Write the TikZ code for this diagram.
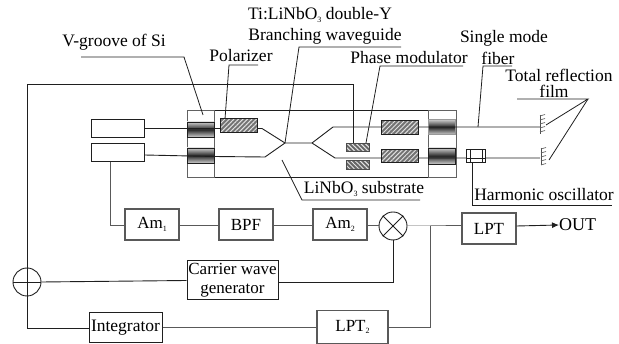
\documentclass[tikz,border=0pt]{standalone}
\usepackage{fontspec}
\setmainfont{Liberation Serif}
\usetikzlibrary{arrows.meta,patterns.meta}
\definecolor{ln}{gray}{0.12}
\definecolor{lb}{gray}{0.35}
\newcommand{\lowidx}[1]{\raisebox{-2.5pt}{\fontsize{8}{8}\selectfont #1}}
\tikzset{
  wire/.style={draw=ln,line width=0.9pt},
  graywire/.style={draw=lb,line width=1pt},
  box/.style={draw=ln,line width=1pt,fill=white,inner sep=0pt,anchor=center},
  gbox/.style={draw=lb,line width=1.2pt,fill=white,inner sep=0pt,anchor=center},
  lab/.style={inner sep=0pt,text=black,font=\fontsize{17.5}{18}\selectfont,anchor=center},
  hatchbox/.style={draw=ln,line width=1pt,preaction={fill=black!55},pattern={Lines[angle=45,distance=3.2pt,line width=1pt]},pattern color=black!12,inner sep=0pt,anchor=center},
  hatchboxb/.style={draw=black!70,line width=1pt,preaction={fill=black!60},pattern={Lines[angle=-45,distance=3.2pt,line width=1pt]},pattern color=black!10,inner sep=0pt,anchor=center},
  band/.style={draw=ln,line width=0.8pt,top color=black!20,bottom color=black!20,middle color=black!85,inner sep=0pt,minimum width=27pt,anchor=center},
  circ/.style={circle,draw=ln,line width=0.9pt,inner sep=0pt,minimum size=28pt,anchor=center},
  leader/.style={draw=ln,line width=0.8pt},
}
\begin{document}
\begin{tikzpicture}[x=1pt,y=-1pt]
\useasboundingbox (0,0) rectangle (619,344);
% substrate and grooves
\node[draw=ln,line width=1pt,minimum width=269pt,minimum height=66.5pt,inner sep=0pt] (chip) at (321.5,143.8) {};
\node[draw=ln!70,line width=1pt,minimum width=27pt,minimum height=66.5pt,inner sep=0pt] (vl) at (200.5,143.8) {};
\node[draw=ln!70,line width=1pt,minimum width=28pt,minimum height=66.5pt,inner sep=0pt] (vr) at (442,143.8) {};
\node[band,minimum height=15pt] (bl1) at (200.5,129.5) {};
\node[band,minimum height=15pt] (bl2) at (200.5,155.5) {};
\node[band,minimum height=15pt,draw=black!40] (br1) at (442,127) {};
\node[band,minimum height=16pt] (br2) at (442,156) {};
% source boxes
\node[box,minimum width=53pt,minimum height=18pt] (s1) at (117.5,129) {};
\node[box,minimum width=53pt,minimum height=18pt] (s2) at (117.5,153) {};
% waveguide coordinates
\coordinate (a1) at (262,128);
\coordinate (a2) at (265,157);
\coordinate (j1) at (285,143);
\coordinate (j2) at (312,143);
\coordinate (b1) at (333,127);
\coordinate (b2) at (335,158);
\coordinate (m1) at (540,127);
\coordinate (m2) at (540,158);
\draw[wire] (s1.east |- 0,128.5) -- (a1 |- 0,128.5) -- (j1) -- (j2) -- (b1) -- (m1);
\draw[wire] (s2.east |- 0,155) -- (214,156.5) -- (a2) -- (j1);
\draw[wire] (j2) -- (b2) -- (m2);
% hatched elements
\node[hatchbox,minimum width=36.5pt,minimum height=14pt] (pol) at (238.8,126) {};
\node[hatchbox,minimum width=36.5pt,minimum height=13.5pt] (r1) at (399.8,127.3) {};
\node[hatchbox,minimum width=36.5pt,minimum height=13pt] (r2) at (399.8,156.5) {};
\node[hatchboxb,minimum width=23pt,minimum height=8.5pt] (pm1) at (357.5,147.5) {};
\node[hatchboxb,minimum width=23pt,minimum height=8.5pt] (pm2) at (357.5,165) {};
% harmonic oscillator
\node[draw=ln,line width=1pt,fill=white,minimum width=19pt,minimum height=13pt,inner sep=0pt] (ho) at (475.5,156.5) {};
\draw[wire] (470,150) -- (470,163) (482.5,150) -- (482.5,163);
\draw[wire] (466,158) -- (485,158);
\coordinate (hoA) at (472,163);
\coordinate (hoB) at (472,205);
\coordinate (hoC) at (612,205);
\draw[leader] (hoA) -- (hoB) -- (hoC);
% mirrors
\coordinate (mt1) at (540,115);
\coordinate (mb1) at (540,134);
\coordinate (mt2) at (541,148);
\coordinate (mb2) at (541,165);
\draw[wire,draw=black!70] (mt1) -- (mb1);
\draw[wire,draw=black!70] (mt2) -- (mb2);
\foreach \y in {116,120,124,128,132}{\draw[line width=0.7pt,black!60] (540,\y) -- (545,\y-1.5);}
\foreach \y in {149,153,157,161,165}{\draw[line width=0.7pt,black!60] (541,\y) -- (546,\y-1.5);}
% signal boxes
\node[gbox,minimum width=54pt,minimum height=31pt,font=\fontsize{17}{18}\selectfont] (am1) at (152,224.5) {Am\lowidx{1}};
\node[gbox,minimum width=54pt,minimum height=31pt,font=\fontsize{17}{18}\selectfont] (bpf) at (246,224.5) {BPF};
\node[gbox,minimum width=54pt,minimum height=31pt,font=\fontsize{17}{18}\selectfont] (am2) at (340,224.5) {Am\lowidx{2}};
\node[circ] (mix) at (393,226) {};
\draw[wire] (mix.north west) -- (mix.south east) (mix.north east) -- (mix.south west);
\node[gbox,minimum width=54pt,minimum height=31pt,font=\fontsize{17}{18}\selectfont] (lpt) at (489,228.5) {LPT};
\node[box,minimum width=91pt,minimum height=39pt,align=center,font=\fontsize{17}{19}\selectfont] (cwg) at (232.5,280.5) {Carrier wave\\generator};
\node[box,minimum width=73pt,minimum height=30pt,font=\fontsize{17.5}{18}\selectfont] (int) at (125.5,328) {Integrator};
\node[gbox,minimum width=71pt,minimum height=33pt,font=\fontsize{17}{18}\selectfont] (lpt2) at (352.5,327) {LPT\lowidx{2}};
\node[circ] (sum) at (27,282) {};
\node[lab,anchor=west,font=\fontsize{18}{18}\selectfont] (out) at (559,225) {OUT};
% connections
\coordinate (fb1) at (27,84);
\coordinate (fb2) at (353,84);
\draw[wire] (sum.north) -- (fb1) -- (fb2) -- (fb2 |- pm1.north);
\draw[wire] (sum.north) -- (sum.south);
\draw[wire] (sum.west) -- (sum.east);
\draw[wire] (sum.east) -- (cwg.west);
\draw[wire] (sum.south) |- (int.west);
\draw[graywire] (int.east) -- (lpt2.west |- int.east);
\coordinate (t) at (430,226);
\draw[graywire] (lpt2.east |- 0,328) -| (t);
\draw[graywire] (mix.east) -- (t) -- (lpt.west |- t);
\draw[wire] (mix.south) |- (cwg.east |- 0,282);
\coordinate (d1) at (110,162);
\draw[graywire] (d1) |- (am1.west |- 0,226);
\draw[graywire] (am1.east |- 0,226) -- (bpf.west |- 0,226);
\draw[graywire] (bpf.east |- 0,226) -- (am2.west |- 0,226);
\draw[graywire] (am2.east |- 0,226) -- (mix.west);
\draw[wire,-{Latex[length=7pt,width=6pt]}] (lpt.east |- 0,226) -- (out.west);
% leaders
\draw[leader] (81,57) -- (184,57) -- (203,115);
\draw[leader] (258,65) -- (229,65) -- (225,119);
\draw[leader] (401,47) -- (299,47) -- (j1);
\draw[leader] (463,66) -- (380,66) -- (366,143);
\draw[leader] (512,66) -- (483,66) -- (478,127);
\coordinate (tf) at (588,99);
\draw[leader] (517,99) -- (tf) -- (546,125);
\draw[leader] (tf) -- (549,160);
\draw[leader] (282,160) -- (302,200) -- (420,200);
% labels
\node[lab] (l1) at (114,42) {V-groove of Si};
\node[lab] (l2) at (241,56) {Polarizer};
\node[lab] (l3) at (320,15) {Ti:LiNbO\lowidx{3} double-Y};
\node[lab] (l4) at (325,36) {Branching waveguide};
\node[lab] (l5) at (409,58) {Phase modulator};
\node[lab] (l6) at (504,38) {Single mode};
\node[lab] (l7) at (498,58) {fiber};
\node[lab] (l8) at (559,75) {Total reflection};
\node[lab] (l9) at (554,91) {film};
\node[lab] (l10) at (364,189) {LiNbO\lowidx{3} substrate};
\node[lab] (l11) at (544,195) {Harmonic oscillator};
\end{tikzpicture}
\end{document}
